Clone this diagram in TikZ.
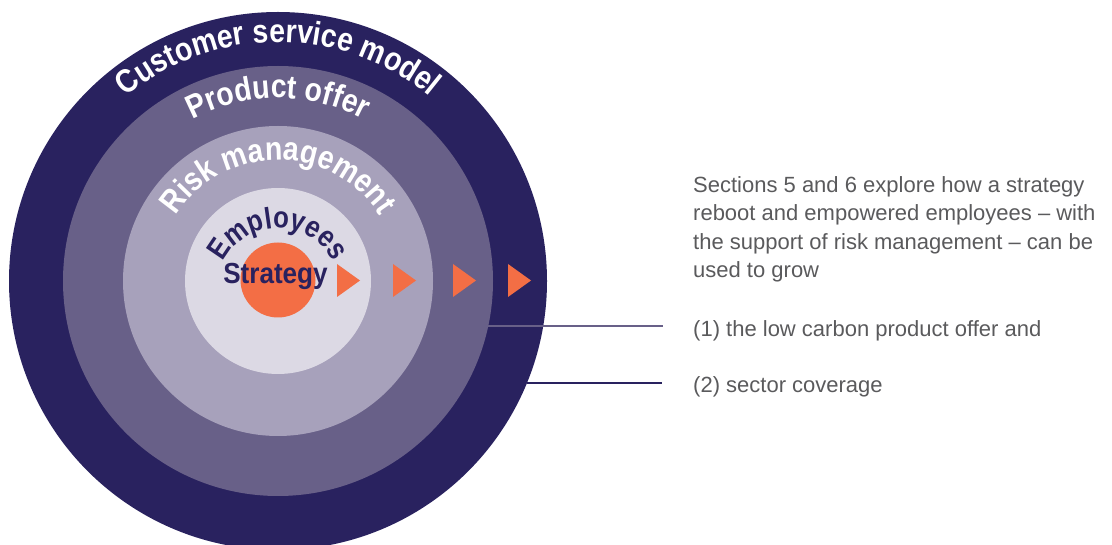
\documentclass[tikz,border=0pt]{standalone}
\usepackage{fontspec}
\setmainfont{Liberation Sans}
\newfontfamily\ringfont[FakeStretch=0.86]{Liberation Sans}
\newfontfamily\corefont[FakeStretch=0.9]{Liberation Sans}
\usetikzlibrary{decorations.text}
\definecolor{ringouter}{HTML}{29225F}
\definecolor{ringtwo}{HTML}{686088}
\definecolor{ringthree}{HTML}{A7A1BB}
\definecolor{ringfour}{HTML}{DCD9E4}
\definecolor{corecol}{HTML}{F36E45}
\definecolor{bodytext}{HTML}{5A5A5C}

\tikzset{
  ringlabel/.style={decorate, decoration={text along path, text align=center, text color=#1}},
  pointer/.style={fill=corecol},
  leader/.style={line width=1.8pt},
  bodynode/.style={anchor=base west, align=left, inner sep=0pt, text=bodytext, font=\fontsize{22}{28.5}\selectfont}
}

\begin{document}
\begin{tikzpicture}[x=1pt,y=1pt]
			\useasboundingbox (0,0) rectangle (1112,544);
			\coordinate (c) at (278,263);
			
			\fill[ringouter] (c) circle[radius=269pt];
			\fill[ringtwo] (c) circle[radius=215pt];
			\fill[ringthree] (c) circle[radius=155pt];
			\fill[ringfour] (c) circle[radius=93pt];
			\fill[corecol] (278,264) circle[radius=37.5pt];
			
			\path[ringlabel=white, decoration={text={|\ringfont\bfseries\fontsize{33}{33}\selectfont|Customer service model}}]
				([shift={(178:239pt)}]c) arc[start angle=178, end angle=2, radius=239pt];
			\path[ringlabel=white, decoration={text={|\ringfont\bfseries\fontsize{33}{33}\selectfont|Product offer}}]
				([shift={(178:183pt)}]c) arc[start angle=178, end angle=2, radius=183pt];
			\path[ringlabel=white, decoration={text={|\ringfont\bfseries\fontsize{33}{33}\selectfont|Risk management}}]
				([shift={(178:121pt)}]c) arc[start angle=178, end angle=2, radius=121pt];
			\path[ringlabel=ringouter, decoration={text={|\ringfont\bfseries\fontsize{30}{30}\selectfont|Employees}}]
				([shift={(178:61pt)}]278,255) arc[start angle=178, end angle=2, radius=61pt];
			
			\node[anchor=base, inner sep=0pt, text=ringouter, font=\corefont\bfseries\fontsize{29}{29}\selectfont] (strategy) at (275.5,260) {Strategy};
			
			\foreach \ax in {337,393,453,508} {
				\fill[pointer] (\ax,280) -- ++(23,-16.5) -- ++(-23,-16.5) -- cycle;
			}
			
			\node[bodynode] (intro) at (693,266) {Sections 5 and 6 explore how a strategy\\reboot and empowered employees \textendash{} with\\the support of risk management \textendash{} can be\\used to grow};
			\node[bodynode] (first) at (693,207) {(1) the low carbon product offer and};
			\node[bodynode] (second) at (693,151) {(2) sector coverage};
			
			\coordinate (e1) at (488,218);
			\coordinate (e1end) at (663,218);
			\coordinate (e2) at (527,161);
			\coordinate (e2end) at (662,161);
			\draw[leader, ringtwo] (e1) -- (e1end);
			\draw[leader, ringouter] (e2) -- (e2end);
			
		\end{tikzpicture}
\end{document}
